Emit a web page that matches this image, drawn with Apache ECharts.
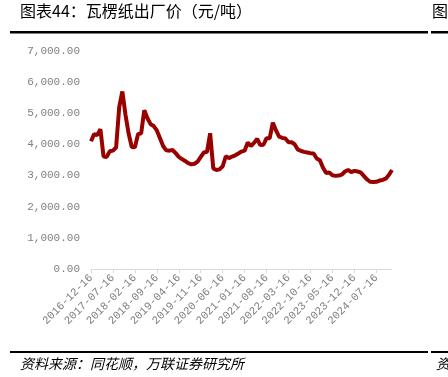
<!DOCTYPE html>
<html lang="zh">
    <head>
        <meta charset="UTF-8" />
        <title>瓦楞纸出厂价</title>
        <script src="https://cdn.jsdelivr.net/npm/echarts@6/dist/echarts.min.js"></script>
        <style>
            body {
                margin: 0;
                padding: 0;
                background: #fff;
            }

            #chart {
                width: 448px;
                height: 377px;
            }
        </style>
    </head>
    <body>
        <div id="chart"></div>
        <script>
            // monthly points, 2016-12 .. 2024-12
            let startYear = 2016;
            let startMonth = 12;
            let prices = [
                4100, 4330, 4300, 4490, 3610, 3600, 3780, 3800, 3900, 5200,
                5700, 4950, 4350, 3920, 3910, 4330, 4360, 5100, 4840, 4650,
                4590, 4450, 4200, 3950, 3810, 3800, 3820, 3720, 3600, 3530,
                3470, 3400, 3360, 3380, 3450, 3600, 3740, 3760, 4360, 3230,
                3180, 3200, 3300, 3620, 3560, 3610, 3650, 3710, 3770, 3800,
                4060, 3950, 4050, 4180, 3980, 3990, 4200, 4200, 4700, 4450,
                4250, 4210, 4190, 4070, 4070, 4000, 3830, 3790, 3760, 3740,
                3720, 3710, 3550, 3490, 3250, 3080, 3100, 3010, 2990, 3000,
                3030, 3130, 3180, 3110, 3150, 3130, 3100, 2990, 2880, 2800,
                2790, 2800, 2840, 2860, 2900, 3020, 3180
            ];
            let yMin = 0;
            let yMax = 7000;
            let yStep = 1000;
            let labelEvery = 7;

            let titleText = '图表44：瓦楞纸出厂价（元/吨）';
            let sourceText = '资料来源：同花顺，万联证券研究所';

            let dates = [];
            for (let i = 0; i < prices.length; i++) {
                let m = startMonth - 1 + i;
                let y = startYear + Math.floor(m / 12);
                let mm = (m % 12) + 1;
                dates.push(y + '-' + (mm < 10 ? '0' : '') + mm + '-16');
            }

            function fmt(v) {
                let s = Math.round(v).toString();
                s = s.replace(/\B(?=(\d{3})+(?!\d))/g, ',');
                return s + '.00';
            }

            let labelFont = {
                fontFamily: 'Liberation Mono',
                fontSize: 11,
                color: '#808080'
            };

            let myChart = echarts.init(document.getElementById('chart'));
            let option = {
                animation: false,
                backgroundColor: '#fff',
                grid: {
                    left: 91,
                    right: 56,
                    top: 51,
                    bottom: 108
                },
                xAxis: {
                    type: 'category',
                    data: dates,
                    boundaryGap: false,
                    axisLine: { lineStyle: { color: '#d9d9d9', width: 1 } },
                    axisTick: {
                        show: true,
                        interval: labelEvery - 1,
                        length: 4,
                        lineStyle: { color: '#d9d9d9' }
                    },
                    axisLabel: Object.assign(
                        {
                            interval: labelEvery - 1,
                            rotate: 45,
                            margin: 7
                        },
                        labelFont
                    ),
                    splitLine: { show: false }
                },
                yAxis: {
                    type: 'value',
                    min: yMin,
                    max: yMax,
                    interval: yStep,
                    axisLine: { show: false },
                    axisTick: { show: false },
                    splitLine: { show: false },
                    axisLabel: Object.assign(
                        {
                            margin: 11,
                            formatter: fmt
                        },
                        labelFont
                    )
                },
                series: [
                    {
                        type: 'line',
                        data: prices,
                        symbol: 'none',
                        lineStyle: { color: '#990000', width: 4 }
                    }
                ],
                graphic: [
                    {
                        type: 'text',
                        left: 20,
                        top: 3,
                        style: {
                            text: titleText,
                            font: '16px "Noto Sans CJK SC"',
                            fill: '#000'
                        }
                    },
                    {
                        type: 'text',
                        left: 432,
                        top: 3,
                        style: {
                            text: '图',
                            font: '16px "Noto Sans CJK SC"',
                            fill: '#000'
                        }
                    },
                    {
                        type: 'rect',
                        shape: { x: 10, y: 31, width: 418, height: 2.5 },
                        style: { fill: '#000' }
                    },
                    {
                        type: 'rect',
                        shape: { x: 431, y: 31, width: 17, height: 2.5 },
                        style: { fill: '#000' }
                    },
                    {
                        type: 'rect',
                        shape: { x: 10, y: 351, width: 418, height: 2 },
                        style: { fill: '#000' }
                    },
                    {
                        type: 'rect',
                        shape: { x: 431, y: 351, width: 17, height: 2 },
                        style: { fill: '#000' }
                    },
                    {
                        type: 'text',
                        left: 20,
                        top: 357,
                        style: {
                            text: sourceText,
                            font: 'italic 14px "Noto Sans CJK SC"',
                            fill: '#000'
                        }
                    },
                    {
                        type: 'text',
                        left: 436,
                        top: 357,
                        style: {
                            text: '资',
                            font: 'italic 14px "Noto Sans CJK SC"',
                            fill: '#000'
                        }
                    }
                ]
            };
            myChart.setOption(option);
        </script>
    </body>
</html>
